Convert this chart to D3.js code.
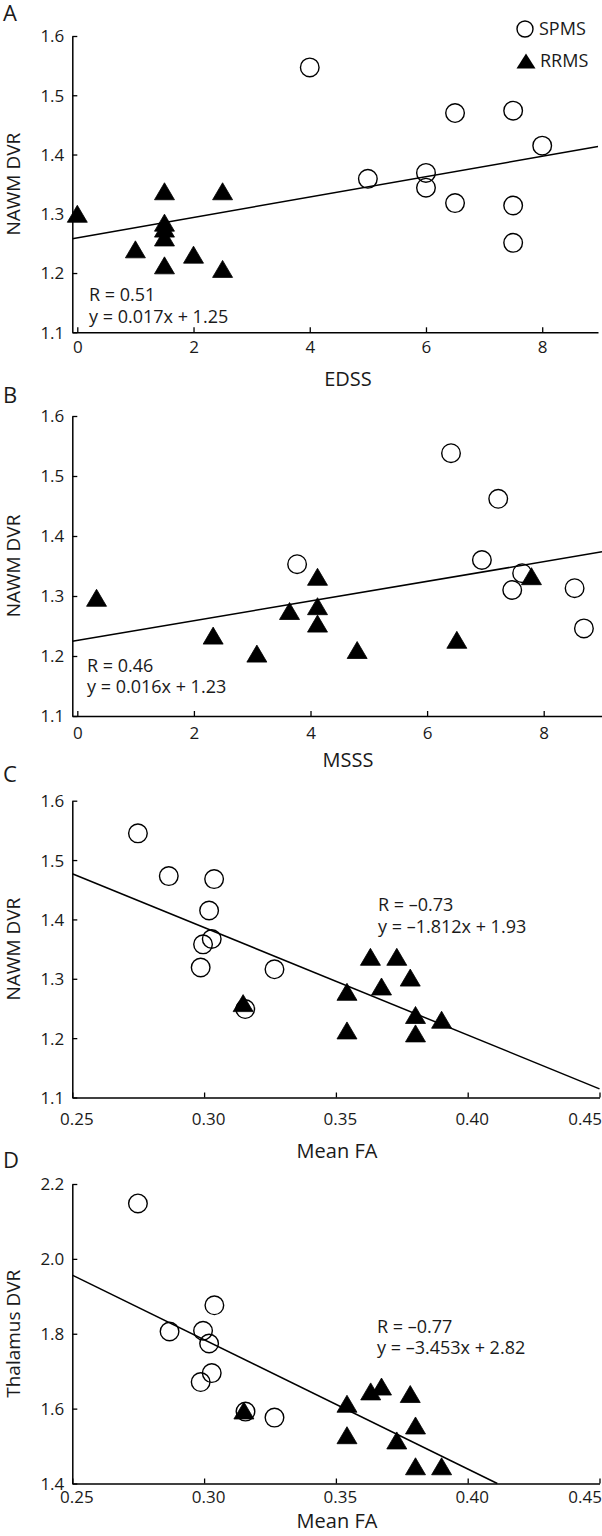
<!DOCTYPE html>
<html><head><meta charset="utf-8">
<script src="https://cdn.jsdelivr.net/npm/d3@7"></script>
<style>
body{margin:0;background:#fff}
svg{display:block}
text{font-family:"Open Sans",sans-serif;fill:#1a1a1a}
</style>
</head><body>
<svg id="chart" width="602" height="1536"></svg>
<script>
// ---------- data ----------
// Panel A: EDSS vs NAWM DVR
const edssSPMS = [4, 5, 6, 6, 6.5, 6.5, 7.5, 7.5, 7.5, 8];
const nawmSPMS_A = [1.547, 1.359, 1.369, 1.344, 1.47, 1.318, 1.474, 1.314, 1.251, 1.415];
const edssRRMS = [0, 1, 1.5, 1.5, 1.5, 1.5, 1.5, 2, 2.5, 2.5];
const nawmRRMS_A = [1.30, 1.24, 1.338, 1.285, 1.275, 1.26, 1.213, 1.231, 1.338, 1.207];
// Panel B: MSSS vs NAWM DVR
const msssSPMS = [6.41, 7.22, 6.94, 3.77, 7.63, 7.46, 8.53, 8.69];
const nawmSPMS_B = [1.538, 1.462, 1.36, 1.353, 1.338, 1.31, 1.313, 1.246];
const msssRRMS = [0.33, 2.33, 3.08, 3.64, 4.12, 4.12, 4.12, 4.80, 6.51, 7.79];
const nawmRRMS_B = [1.297, 1.234, 1.204, 1.275, 1.332, 1.283, 1.254, 1.21, 1.227, 1.333];
// Panel C: Mean FA vs NAWM DVR
const faSPMS_C = [0.2749, 0.2866, 0.3038, 0.3019, 0.2996, 0.3029, 0.2987, 0.3267, 0.3156];
const nawmSPMS_C = [1.545, 1.473, 1.468, 1.415, 1.358, 1.367, 1.319, 1.316, 1.249];
const faRRMS_C = [0.3148, 0.3542, 0.3542, 0.3631, 0.3673, 0.3731, 0.3782, 0.3802, 0.3802, 0.3901];
const nawmRRMS_C = [1.259, 1.278, 1.213, 1.337, 1.287, 1.337, 1.302, 1.239, 1.208, 1.231];
// Panel D: Mean FA vs Thalamus DVR
const faSPMS_D = [0.2749, 0.2869, 0.3039, 0.2996, 0.3019, 0.3029, 0.2987, 0.3157, 0.3267];
const thalSPMS_D = [2.148, 1.806, 1.876, 1.808, 1.774, 1.695, 1.671, 1.592, 1.576];
const faRRMS_D = [0.3151, 0.3542, 0.3542, 0.3632, 0.3673, 0.3782, 0.3802, 0.3731, 0.3802, 0.3901];
const thalRRMS_D = [1.595, 1.613, 1.529, 1.646, 1.659, 1.639, 1.555, 1.515, 1.446, 1.446];
// Fitted lines (slope, intercept) as drawn
const fitSlope = [0.0172, 0.0164, -1.812, -3.453];
const fitIntercept = [1.2595, 1.226, 1.93, 2.82];
// Annotation text
const statR = ["R = 0.51", "R = 0.46", "R = \u20130.73", "R = \u20130.77"];
const statEq = ["y = 0.017x + 1.25", "y = 0.016x + 1.23", "y = \u20131.812x + 1.93", "y = \u20133.453x + 2.82"];
// Ticks
const scoreTicks = [0, 2, 4, 6, 8];
const faTicks = [0.25, 0.30, 0.35, 0.40, 0.45];
const nawmTicks = [1.1, 1.2, 1.3, 1.4, 1.5, 1.6];
const thalTicks = [1.4, 1.6, 1.8, 2.0, 2.2];
const letters = ["A", "B", "C", "D"];
const xTitles = ["EDSS", "MSSS", "Mean FA", "Mean FA"];
const yTitles = ["NAWM DVR", "NAWM DVR", "NAWM DVR", "Thalamus DVR"];
const legendLabels = ["SPMS", "RRMS"];

// ---------- layout ----------
const zip = (xs, ys) => xs.map((x, i) => ({x, y: ys[i]}));
const panels = [
  {spms: zip(edssSPMS, nawmSPMS_A), rrms: zip(edssRRMS, nawmRRMS_A),
   xDomain: [-0.086, 8.96], yDomain: [1.1, 1.6], xTicks: scoreTicks, yTicks: nawmTicks,
   xFmt: d3.format("d"), yFmt: d3.format(".1f"), labShift: 0,
   top: 36, bottom: 332.3, left: 72.3, right: 598,
   letterY: 21, tickLabOff: 15, titleOff: 47, statX: 89, statY: [295, 317]},
  {spms: zip(msssSPMS, nawmSPMS_B), rrms: zip(msssRRMS, nawmRRMS_B),
   xDomain: [-0.086, 9.0], yDomain: [1.1, 1.6], xTicks: scoreTicks, yTicks: nawmTicks,
   xFmt: d3.format("d"), yFmt: d3.format(".1f"), labShift: 0,
   top: 416, bottom: 716, left: 72.3, right: 602,
   letterY: 403, tickLabOff: 17.5, titleOff: 44, statX: 87, statY: [666, 687]},
  {spms: zip(faSPMS_C, nawmSPMS_C), rrms: zip(faRRMS_C, nawmRRMS_C),
   xDomain: [0.25, 0.45], yDomain: [1.1, 1.6], xTicks: faTicks, yTicks: nawmTicks,
   xFmt: d3.format(".2f"), yFmt: d3.format(".1f"), labShift: 4,
   top: 800.7, bottom: 1097.5, left: 72.3, right: 599.5,
   letterY: 782, tickLabOff: 22, titleOff: 53, statX: 378, statY: [905, 927]},
  {spms: zip(faSPMS_D, thalSPMS_D), rrms: zip(faRRMS_D, thalRRMS_D),
   xDomain: [0.25, 0.45], yDomain: [1.4, 2.2], xTicks: faTicks, yTicks: thalTicks,
   xFmt: d3.format(".2f"), yFmt: d3.format(".1f"), labShift: 4,
   top: 1184, bottom: 1483.5, left: 72.3, right: 599.5,
   letterY: 1168, tickLabOff: 14, titleOff: 37, statX: 377, statY: [1327, 1348]}
];

const svg = d3.select("#chart");
const triPath = (w, h) => `M0,${-h/2}L${w/2},${h/2}L${-w/2},${h/2}Z`;

panels.forEach((p, i) => {
  const x = d3.scaleLinear().domain(p.xDomain).range([p.left, p.right]);
  const y = d3.scaleLinear().domain(p.yDomain).range([p.bottom, p.top]);
  const g = svg.append("g");

  // panel letter
  g.append("text").attr("x", 3).attr("y", p.letterY)
    .style("font-size", "22px").text(letters[i]);

  // y axis
  const ya = g.append("g").attr("transform", `translate(${p.left},0)`)
    .call(d3.axisLeft(y).tickValues(p.yTicks).tickFormat(p.yFmt)
      .tickSizeInner(-5).tickSizeOuter(0).tickPadding(8));
  ya.selectAll("text").style("font-size", "17px").attr("dy", "0.35em");
  ya.select(".domain").attr("stroke", "#000").attr("stroke-width", 1.5);
  ya.selectAll(".tick line").attr("stroke", "#000").attr("stroke-width", 1.3);

  // x axis
  const xa = g.append("g").attr("transform", `translate(0,${p.bottom})`)
    .call(d3.axisBottom(x).tickValues(p.xTicks).tickFormat(p.xFmt)
      .tickSizeInner(-5).tickSizeOuter(0));
  xa.selectAll("text").style("font-size", "17px")
    .attr("x", p.labShift).attr("y", p.tickLabOff).attr("dy", "0.35em");
  xa.selectAll(".tick").filter(d => d === 0.45).select("text")
    .attr("text-anchor", "end").attr("x", 2);
  xa.select(".domain").attr("stroke", "#000").attr("stroke-width", 1.5);
  xa.selectAll(".tick line").attr("stroke", "#000").attr("stroke-width", 1.3);

  // axis titles
  g.append("text").attr("x", (i < 2 ? 348 : 337)).attr("y", p.bottom + p.titleOff)
    .attr("dy", "0.35em").attr("text-anchor", "middle")
    .style("font-size", "20px").text(xTitles[i]);
  g.append("text")
    .attr("transform", `translate(13,${(p.top + p.bottom) / 2}) rotate(-90)`)
    .attr("dy", "0.35em").attr("text-anchor", "middle")
    .style("font-size", "19px").text(yTitles[i]);

  // regression line, clipped to plot box
  const m = fitSlope[i], b = fitIntercept[i];
  let x0 = p.xDomain[0], x1 = p.xDomain[1];
  const [ylo, yhi] = p.yDomain;
  const clipX = v => {
    const yy = m * v + b;
    if (yy < ylo) return (ylo - b) / m;
    if (yy > yhi) return (yhi - b) / m;
    return v;
  };
  x0 = clipX(x0); x1 = clipX(x1);
  g.append("line")
    .attr("x1", x(x0)).attr("y1", y(m * x0 + b))
    .attr("x2", x(x1)).attr("y2", y(m * x1 + b))
    .attr("stroke", "#000").attr("stroke-width", 1.5);

  // SPMS circles (open)
  g.selectAll(".spms").data(p.spms).enter().append("circle")
    .attr("cx", d => x(d.x)).attr("cy", d => y(d.y)).attr("r", 9.3)
    .attr("fill", "none").attr("stroke", "#000").attr("stroke-width", 1.4);

  // RRMS triangles (filled)
  g.selectAll(".rrms").data(p.rrms).enter().append("path")
    .attr("d", triPath(20, 17))
    .attr("transform", d => `translate(${x(d.x)},${y(d.y)})`)
    .attr("fill", "#000").attr("stroke", "#000").attr("stroke-width", 0.8);

  // stats text
  g.append("text").attr("x", p.statX).attr("y", p.statY[0]).attr("dy", "0.35em")
    .style("font-size", "18px").text(statR[i]);
  g.append("text").attr("x", p.statX).attr("y", p.statY[1]).attr("dy", "0.35em")
    .style("font-size", "18px").text(statEq[i]);

  // legend (panel A only)
  if (i === 0) {
    const lg = g.append("g");
    lg.append("circle").attr("cx", 525).attr("cy", 29).attr("r", 8)
      .attr("fill", "none").attr("stroke", "#000").attr("stroke-width", 1.4);
    lg.append("text").attr("x", 539).attr("y", 29).attr("dy", "0.35em")
      .style("font-size", "18px").text(legendLabels[0]);
    lg.append("path").attr("d", triPath(19, 15))
      .attr("transform", "translate(526,61)").attr("fill", "#000");
    lg.append("text").attr("x", 540).attr("y", 61).attr("dy", "0.35em")
      .style("font-size", "18px").text(legendLabels[1]);
  }
});
</script>
</body></html>
